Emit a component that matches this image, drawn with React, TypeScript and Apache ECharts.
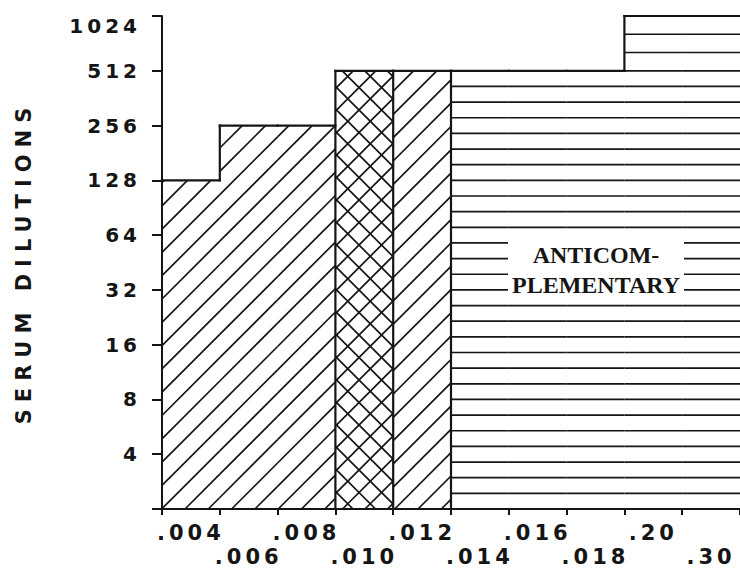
import React, { useEffect, useRef } from "react";
import * as echarts from "echarts";

// ---- data ----
const categories = [".004", ".006", ".008", ".010", ".012", ".014", ".016", ".018", ".20", ".30"];
const titers = [128, 256, 256, 512, 512, 512, 512, 512, 1024, 1024];
const patterns = ["diag", "diag", "diag", "cross", "diag", "horiz", "horiz", "horiz", "horiz", "horiz"];
const yMin = 2;
const yMax = 1024;
const hiddenYLabels = [2];
const annotationLines = ["ANTICOM-", "PLEMENTARY"];
const yAxisTitle = "SERUM DILUTIONS";

const INK = "#151515";
const SANS = "DejaVu Sans";

function renderItem(params: any, api: any) {
  const idx = api.value(0);
  const v = api.value(1);
  const pat = patterns[idx];
  const w = api.size([1, 0])[0];
  const top = api.coord([idx, v]);
  const cx = top[0];
  const yT = top[1];
  const yB = api.coord([idx, yMin])[1];
  const x0 = cx - w / 2;
  const x1 = cx + w / 2;
  const gridLeft = api.coord([0, yMin])[0] - w / 2;
  const y512 = api.coord([idx, 512])[1];
  const y1024 = api.coord([idx, 1024])[1];
  const children: any[] = [];
  const hatch = { stroke: INK, lineWidth: 1.7 };
  const edge = { stroke: INK, lineWidth: 2.2, lineCap: "square" };
  const seg = (xa: number, ya: number, xb: number, yb: number, style: any) =>
    children.push({ type: "line", shape: { x1: xa, y1: ya, x2: xb, y2: yb }, style });

  if (pat === "diag" || pat === "cross") {
    const s = pat === "diag" ? 23.3 : 22.5;
    const base = gridLeft + yB + 23;
    const cMin = x0 + yT;
    const cMax = x1 + yB;
    for (let k = Math.ceil((cMin - base) / s); base + k * s < cMax; k++) {
      const c = base + k * s;
      const xa = Math.max(x0, c - yB);
      const xb = Math.min(x1, c - yT);
      if (xb - xa > 0.5) seg(xa, c - xa, xb, c - xb, hatch);
    }
    if (pat === "cross") {
      const base2 = gridLeft - yB + 11;
      const dMin = x0 - yB;
      const dMax = x1 - yT;
      for (let j = Math.ceil((dMin - base2) / s); base2 + j * s < dMax; j++) {
        const d = base2 + j * s;
        const xa = Math.max(x0, d + yT);
        const xb = Math.min(x1, d + yB);
        if (xb - xa > 0.5) seg(xa, xa - d, xb, xb - d, hatch);
      }
    }
  } else if (pat === "horiz") {
    const s1 = (yB - y512) / 28;
    const s2 = (y512 - y1024) / 3;
    for (let k = 1; k <= 28; k++) {
      const y = yB - k * s1;
      if (y > yT + 0.5) seg(x0, y, x1, y, hatch);
    }
    for (let j = 1; j < 3; j++) {
      const y = y512 - j * s2;
      if (y > yT + 0.5) seg(x0, y, x1, y, hatch);
    }
  }

  // outline
  seg(x0, yT, x1, yT, edge);
  if (idx > 0) {
    const pv = titers[idx - 1];
    const yP = api.coord([idx - 1, pv])[1];
    const yHigh = Math.min(yP, yT);
    const yLow = Math.max(yP, yT);
    if (patterns[idx - 1] !== pat) seg(x0, yB, x0, yHigh, edge);
    else if (pv !== v) seg(x0, yLow, x0, yHigh, edge);
  }
  return { type: "group", children };
}

export default function App() {
  const ref = useRef<HTMLDivElement>(null);

  useEffect(() => {
    document.body.style.margin = "0";
    const el = ref.current!;
    const chart = echarts.init(el, undefined, { renderer: "svg" });
    chart.setOption({
      animation: false,
      backgroundColor: "#ffffff",
      grid: { left: 162, top: 16, width: 580, height: 493, containLabel: false },
      xAxis: {
        type: "category",
        data: categories,
        boundaryGap: true,
        axisLine: { lineStyle: { color: INK, width: 2 } },
        axisTick: { show: true, length: 6, interval: 0, lineStyle: { color: INK, width: 2 } },
        axisLabel: {
          interval: 0,
          margin: 12,
          color: INK,
          fontFamily: SANS,
          fontWeight: "bold",
          fontSize: 21,
          lineHeight: 24,
          formatter: (val: string, i: number) => (i % 2 === 1 ? "\n" + val : val),
        },
        splitLine: { show: false },
      },
      yAxis: {
        type: "log",
        logBase: 2,
        min: yMin,
        max: yMax,
        splitNumber: 9,
        name: yAxisTitle,
        nameLocation: "middle",
        nameRotate: 90,
        nameGap: 128,
        nameTextStyle: { color: INK, fontFamily: SANS, fontWeight: "bold", fontSize: 21 },
        axisLine: { show: true, lineStyle: { color: INK, width: 2 } },
        axisTick: { show: true, length: 10, lineStyle: { color: INK, width: 2 } },
        axisLabel: {
          margin: 21,
          color: INK,
          fontFamily: SANS,
          fontWeight: "bold",
          fontSize: 20,
          verticalAlignMaxLabel: "top",
          formatter: (val: number) => (hiddenYLabels.includes(Math.round(val)) ? "" : String(Math.round(val))),
        },
        splitLine: { show: false },
        minorTick: { show: false },
      },
      series: [
        {
          type: "custom",
          renderItem,
          encode: { x: 0, y: 1 },
          data: categories.map((_, i) => [i, titers[i]]),
          z: 2,
        },
      ],
      graphic: [
        {
          type: "text",
          x: 596,
          y: 270,
          z: 100,
          style: {
            text: annotationLines.join("\n"),
            fontFamily: "Liberation Serif",
            fontWeight: "bold",
            fontSize: 24,
            lineHeight: 30,
            fill: INK,
            align: "center",
            verticalAlign: "middle",
            textAlign: "center",
            textVerticalAlign: "middle",
            backgroundColor: "#ffffff",
            padding: [2, 4],
          },
        },
      ],
    });

    const applySpacing = () => {
      el.querySelectorAll("text").forEach((t) => {
        const s = (t.textContent || "").trim();
        if (s === yAxisTitle) (t as any).style.letterSpacing = "7px";
        else if (/^\.?\d+$/.test(s)) (t as any).style.letterSpacing = "4px";
      });
    };
    applySpacing();
    chart.on("finished", applySpacing);

    return () => {
      chart.dispose();
    };
  }, []);

  return <div ref={ref} style={{ width: 740, height: 571 }} />;
}
